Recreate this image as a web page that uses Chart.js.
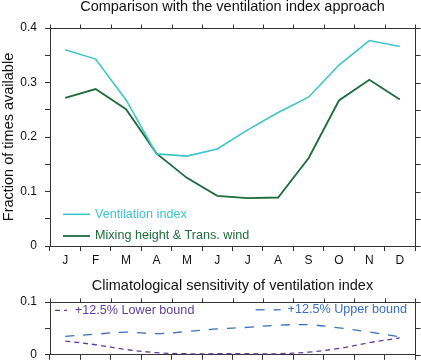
<!DOCTYPE html>
<html><head><meta charset="utf-8">
<script src="https://cdn.jsdelivr.net/npm/chart.js@4.4.1/dist/chart.umd.min.js"></script>
<style>
html,body{margin:0;padding:0;background:#fff;}
#wrap{position:relative;width:421px;height:363px;overflow:hidden;background:#fff;}
#c1{position:absolute;left:0;top:0;}
#c2{position:absolute;left:0;top:270px;}
</style></head><body>
<div id="wrap"><canvas id="c1" width="421" height="270"></canvas><canvas id="c2" width="421" height="100"></canvas></div>
<script>
// ---- data ----
const months = ['J','F','M','A','M','J','J','A','S','O','N','D'];
const ventilationIndex = [0.360, 0.343, 0.268, 0.169, 0.165, 0.178, 0.213, 0.245, 0.273, 0.332, 0.377, 0.366];
const mixingHeightTransWind = [0.272, 0.288, 0.251, 0.170, 0.125, 0.092, 0.088, 0.089, 0.161, 0.267, 0.305, 0.269];
const lowerBound = [0.026, 0.019, 0.010, 0.004, 0.002, 0.002, 0.002, 0.002, 0.005, 0.012, 0.023, 0.032];
const upperBound = [0.035, 0.039, 0.043, 0.040, 0.044, 0.049, 0.052, 0.056, 0.057, 0.051, 0.043, 0.034];
const topTitle = 'Comparison with the ventilation index approach';
const bottomTitle = 'Climatological sensitivity of ventilation index';
const yTitle = 'Fraction of times available';
const seriesLabels = ['Ventilation index', 'Mixing height & Trans. wind', '+12.5% Lower bound', '+12.5% Upper bound'];

// ---- styles ----
const FONT = "'Liberation Sans', Arial, Helvetica, sans-serif";
const AXIS = '#333333';
const CYAN = '#3ec5c9';
const GREEN = '#1f6b3a';
const PURPLE = '#5c3ea2';
const BLUE = '#3a6fc0';
const TITLE_SIZE = 14.5;
const LEGEND_SIZE = 12.6;
Chart.defaults.font.family = FONT;
Chart.defaults.color = '#111';

function fmt(v){ const r = Math.round(v*100); if (r % 10 !== 0) return ''; return r === 0 ? '0' : (r/100).toString(); }

const panelPlugin = {
  id: 'panel',
  afterDraw(chart, args, opts) {
    const {ctx, chartArea: a, scales} = chart;
    const xs = scales.x, ys = scales.y;
    const px = v => Math.round(v) + 0.5;
    ctx.save();
    ctx.strokeStyle = AXIS; ctx.lineWidth = 1; ctx.setLineDash([]);
    // top and right border
    ctx.beginPath();
    ctx.moveTo(px(a.left), px(a.top)); ctx.lineTo(px(a.right), px(a.top));
    ctx.moveTo(px(a.right), px(a.top)); ctx.lineTo(px(a.right), px(a.bottom));
    ctx.stroke();
    // top ticks at category boundaries
    ctx.beginPath();
    for (let i = 0; i <= months.length; i++) {
      const x = px(xs.getPixelForValue(i - 0.5));
      ctx.moveTo(x, px(a.top)); ctx.lineTo(x, px(a.top) - 4);
    }
    // right ticks
    ys.ticks.forEach(t => {
      const y = px(ys.getPixelForValue(t.value));
      ctx.moveTo(px(a.right), y); ctx.lineTo(px(a.right) + 5, y);
    });
    ctx.stroke();
    // title centered on plot area
    ctx.fillStyle = '#111';
    ctx.font = TITLE_SIZE + 'px ' + FONT;
    ctx.textAlign = 'center'; ctx.textBaseline = 'middle';
    ctx.fillText(opts.title, (a.left + a.right) / 2, a.top - opts.titleGap);
    // in-plot legend
    (opts.items || []).forEach(it => {
      const ds = chart.data.datasets[it.index];
      ctx.font = LEGEND_SIZE + 'px ' + FONT;
      const tw = ctx.measureText(ds.label).width;
      const y = a.bottom - it.dy;
      let x0, tx;
      if (it.right) { tx = a.right - it.pad - tw; x0 = tx - it.gap - it.len; }
      else { x0 = a.left + it.pad; tx = x0 + it.len + it.gap; }
      ctx.strokeStyle = ds.borderColor; ctx.lineWidth = ds.borderWidth;
      ctx.setLineDash(ds.borderDash || []);
      ctx.beginPath(); ctx.moveTo(x0, y); ctx.lineTo(x0 + it.len, y); ctx.stroke();
      ctx.setLineDash([]);
      ctx.fillStyle = ds.borderColor; ctx.textAlign = 'left'; ctx.textBaseline = 'middle';
      ctx.fillText(ds.label, tx, y);
    });
    ctx.restore();
  }
};

function baseX(height, showLabels) {
  return {
    type: 'category', offset: true,
    grid: { offset: true, drawOnChartArea: false, drawTicks: true, tickLength: 5, color: AXIS, lineWidth: 1 },
    border: { display: true, color: AXIS, width: 1 },
    ticks: { display: showLabels, padding: 2, color: '#111', font: { size: 12 }, autoSkip: false, maxRotation: 0 },
    afterFit(s) { s.height = height; }
  };
}
function baseY(max, title) {
  return {
    min: 0, max: max,
    grid: { drawOnChartArea: false, drawTicks: true, tickLength: 5, color: AXIS, lineWidth: 1 },
    border: { display: true, color: AXIS, width: 1 },
    ticks: { stepSize: 0.05, padding: 8, color: '#111', font: { size: 12 }, callback: v => fmt(v) },
    title: title ? { display: true, text: title, color: '#111', font: { size: TITLE_SIZE }, padding: { top: 0, bottom: 0 } } : { display: false },
    afterFit(s) { s.width = 50; }
  };
}

new Chart(document.getElementById('c1'), {
  type: 'line',
  data: {
    labels: months,
    datasets: [
      { label: seriesLabels[0], data: ventilationIndex, borderColor: CYAN, borderWidth: 1.6, pointRadius: 0, fill: false, tension: 0 },
      { label: seriesLabels[1], data: mixingHeightTransWind, borderColor: GREEN, borderWidth: 1.8, pointRadius: 0, fill: false, tension: 0 }
    ]
  },
  options: {
    responsive: false, animation: false, devicePixelRatio: 1,
    layout: { padding: { left: 0, right: 6, top: 28, bottom: 0 } },
    plugins: {
      legend: { display: false }, tooltip: { enabled: false },
      panel: { title: topTitle, titleGap: 21.5, items: [
        { index: 0, dy: 31.7, pad: 13, len: 27, gap: 5 },
        { index: 1, dy: 10, pad: 13, len: 27, gap: 5 }
      ] }
    },
    scales: { x: baseX(24, true), y: baseY(0.4, yTitle) }
  },
  plugins: [panelPlugin]
});

new Chart(document.getElementById('c2'), {
  type: 'line',
  data: {
    labels: months,
    datasets: [
      { label: seriesLabels[2], data: lowerBound, borderColor: PURPLE, borderWidth: 1.3, borderDash: [5, 4], pointRadius: 0, fill: false, tension: 0.35 },
      { label: seriesLabels[3], data: upperBound, borderColor: BLUE, borderWidth: 1.3, borderDash: [9, 9], pointRadius: 0, fill: false, tension: 0.35 }
    ]
  },
  options: {
    responsive: false, animation: false, devicePixelRatio: 1,
    layout: { padding: { left: 0, right: 6, top: 32, bottom: 0 } },
    plugins: {
      legend: { display: false }, tooltip: { enabled: false },
      panel: { title: bottomTitle, titleGap: 16.3, items: [
        { index: 0, dy: 44.5, pad: 5, len: 12, gap: 8 },
        { index: 1, dy: 45, pad: 8, len: 25, gap: 7, right: true }
      ] }
    },
    scales: { x: baseX(14, false), y: baseY(0.1, null) }
  },
  plugins: [panelPlugin]
});
</script>
</body></html>
